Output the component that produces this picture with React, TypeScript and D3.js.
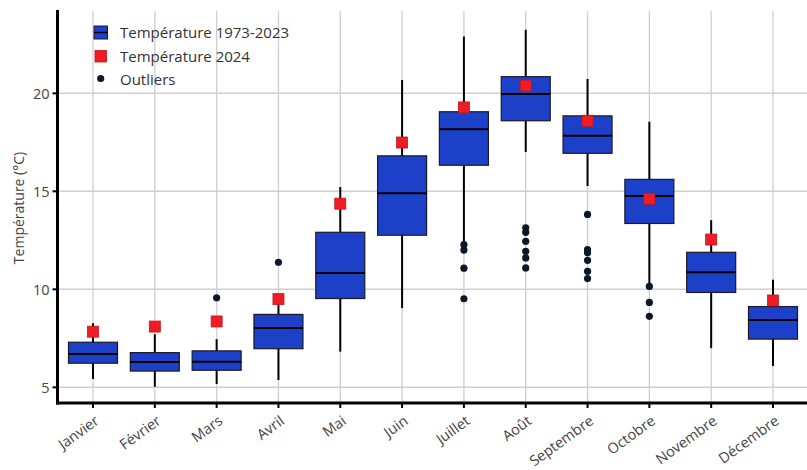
import React from "react";
import * as d3 from "d3";

const months = ["Janvier", "Février", "Mars", "Avril", "Mai", "Juin", "Juillet", "Août", "Septembre", "Octobre", "Novembre", "Décembre"];
const whiskerLow = [5.42, 5.03, 5.17, 5.37, 6.82, 9.04, 12.45, 17.01, 15.27, 10.2, 7.0, 6.09];
const q1 = [6.23, 5.83, 5.87, 6.97, 9.53, 12.76, 16.33, 18.6, 16.94, 13.36, 9.84, 7.46];
const median = [6.7, 6.29, 6.31, 8.03, 10.83, 14.9, 18.17, 19.96, 17.83, 14.76, 10.87, 8.44];
const q3 = [7.3, 6.77, 6.86, 8.72, 12.91, 16.81, 19.06, 20.85, 18.85, 15.61, 11.89, 9.12];
const whiskerHigh = [8.27, 7.71, 7.46, 9.3, 15.22, 20.68, 22.9, 23.24, 20.73, 18.55, 13.53, 10.49];
const temp2024 = [7.84, 8.1, 8.36, 9.5, 14.37, 17.49, 19.28, 20.39, 18.6, 14.62, 12.54, 9.43];
const outliers: number[][] = [
  [],
  [],
  [9.57],
  [11.38],
  [],
  [],
  [12.28, 12.0, 11.08, 9.52],
  [13.14, 12.91, 12.45, 11.94, 11.6, 11.09],
  [13.82, 12.03, 11.86, 11.48, 10.92, 10.55],
  [10.15, 9.33, 8.62],
  [],
  [],
];
const yTicks = [5, 10, 15, 20];
const legendLabels = ["Température 1973-2023", "Température 2024", "Outliers"];

const W = 807;
const H = 470;
const FONT = "'Open Sans', sans-serif";
const BLUE = "#1d40c9";
const RED = "#ee1c24";

export default function App() {
  const left = 57.5;
  const bottom = 403;
  const top = 11;
  const x = d3.scalePoint<string>().domain(months).range([93, 773]);
  const y = d3.scaleLinear().domain([4.2, 24.2]).range([bottom, top]);
  const bw = 49;
  const sq = 11;

  return (
    <svg width={W} height={H} style={{ position: "absolute", left: 0, top: 0, background: "#fff" }} fontFamily={FONT}>
      {/* grid */}
      {yTicks.map((t) => (
        <line key={"gy" + t} x1={left} x2={W} y1={y(t)} y2={y(t)} stroke="#d0d0d0" strokeWidth={1.5} />
      ))}
      {months.map((m) => (
        <line key={"gx" + m} x1={x(m)} x2={x(m)} y1={top} y2={bottom} stroke="#cfcfcf" strokeWidth={1.3} />
      ))}

      {/* boxes */}
      {months.map((m, i) => {
        const cx = x(m)!;
        return (
          <g key={"b" + m}>
            <line x1={cx} x2={cx} y1={y(whiskerLow[i])} y2={y(whiskerHigh[i])} stroke="#000" strokeWidth={2} />
            <rect x={cx - bw / 2} y={y(q3[i])} width={bw} height={y(q1[i]) - y(q3[i])} fill={BLUE} stroke="#1a1a2a" strokeWidth={1.2} />
            <line x1={cx - bw / 2} x2={cx + bw / 2} y1={y(median[i])} y2={y(median[i])} stroke="#000" strokeWidth={2} />
            {outliers[i].map((o, j) => (
              <circle key={j} cx={cx} cy={y(o)} r={3.6} fill="#0b1828" />
            ))}
            <rect x={cx - sq / 2} y={y(temp2024[i]) - sq / 2} width={sq} height={sq} fill={RED} stroke="#c8141c" strokeWidth={0.8} />
          </g>
        );
      })}

      {/* axes */}
      <line x1={left} x2={left} y1={top - 1} y2={bottom + 1.5} stroke="#000" strokeWidth={3} />
      <line x1={left - 1.5} x2={W} y1={bottom} y2={bottom} stroke="#000" strokeWidth={3} />
      {yTicks.map((t) => (
        <g key={"ty" + t}>
          <line x1={left - 5} x2={left} y1={y(t)} y2={y(t)} stroke="#000" strokeWidth={2} />
          <text x={left - 8} y={y(t)} textAnchor="end" dominantBaseline="central" fontSize={14.5} fill="#444">
            {t}
          </text>
        </g>
      ))}
      {months.map((m) => (
        <g key={"tx" + m}>
          <line x1={x(m)} x2={x(m)} y1={bottom} y2={bottom + 5} stroke="#000" strokeWidth={2} />
          <text
            transform={`translate(${x(m)! + 7},${bottom + 20}) rotate(-36)`}
            textAnchor="end"
            fontSize={14.5}
            fill="#444"
          >
            {m}
          </text>
        </g>
      ))}

      <text transform={`translate(24,208) rotate(-90)`} textAnchor="middle" fontSize={14} fill="#444">
        Température (°C)
      </text>

      {/* legend */}
      <g>
        <rect x={94} y={26} width={13.5} height={13} fill={BLUE} stroke="#1a1a2a" strokeWidth={1} />
        <line x1={94} x2={107.5} y1={32.5} y2={32.5} stroke="#000" strokeWidth={1.5} />
        <text x={120} y={32} dominantBaseline="central" fontSize={15} fill="#333">
          {legendLabels[0]}
        </text>
        <rect x={95} y={50.5} width={11.5} height={11.5} fill={RED} stroke="#c8141c" strokeWidth={0.8} />
        <text x={120} y={56} dominantBaseline="central" fontSize={15} fill="#333">
          {legendLabels[1]}
        </text>
        <circle cx={100.7} cy={78.5} r={3.6} fill="#0b1828" />
        <text x={120} y={79} dominantBaseline="central" fontSize={15} fill="#333">
          {legendLabels[2]}
        </text>
      </g>
    </svg>
  );
}
